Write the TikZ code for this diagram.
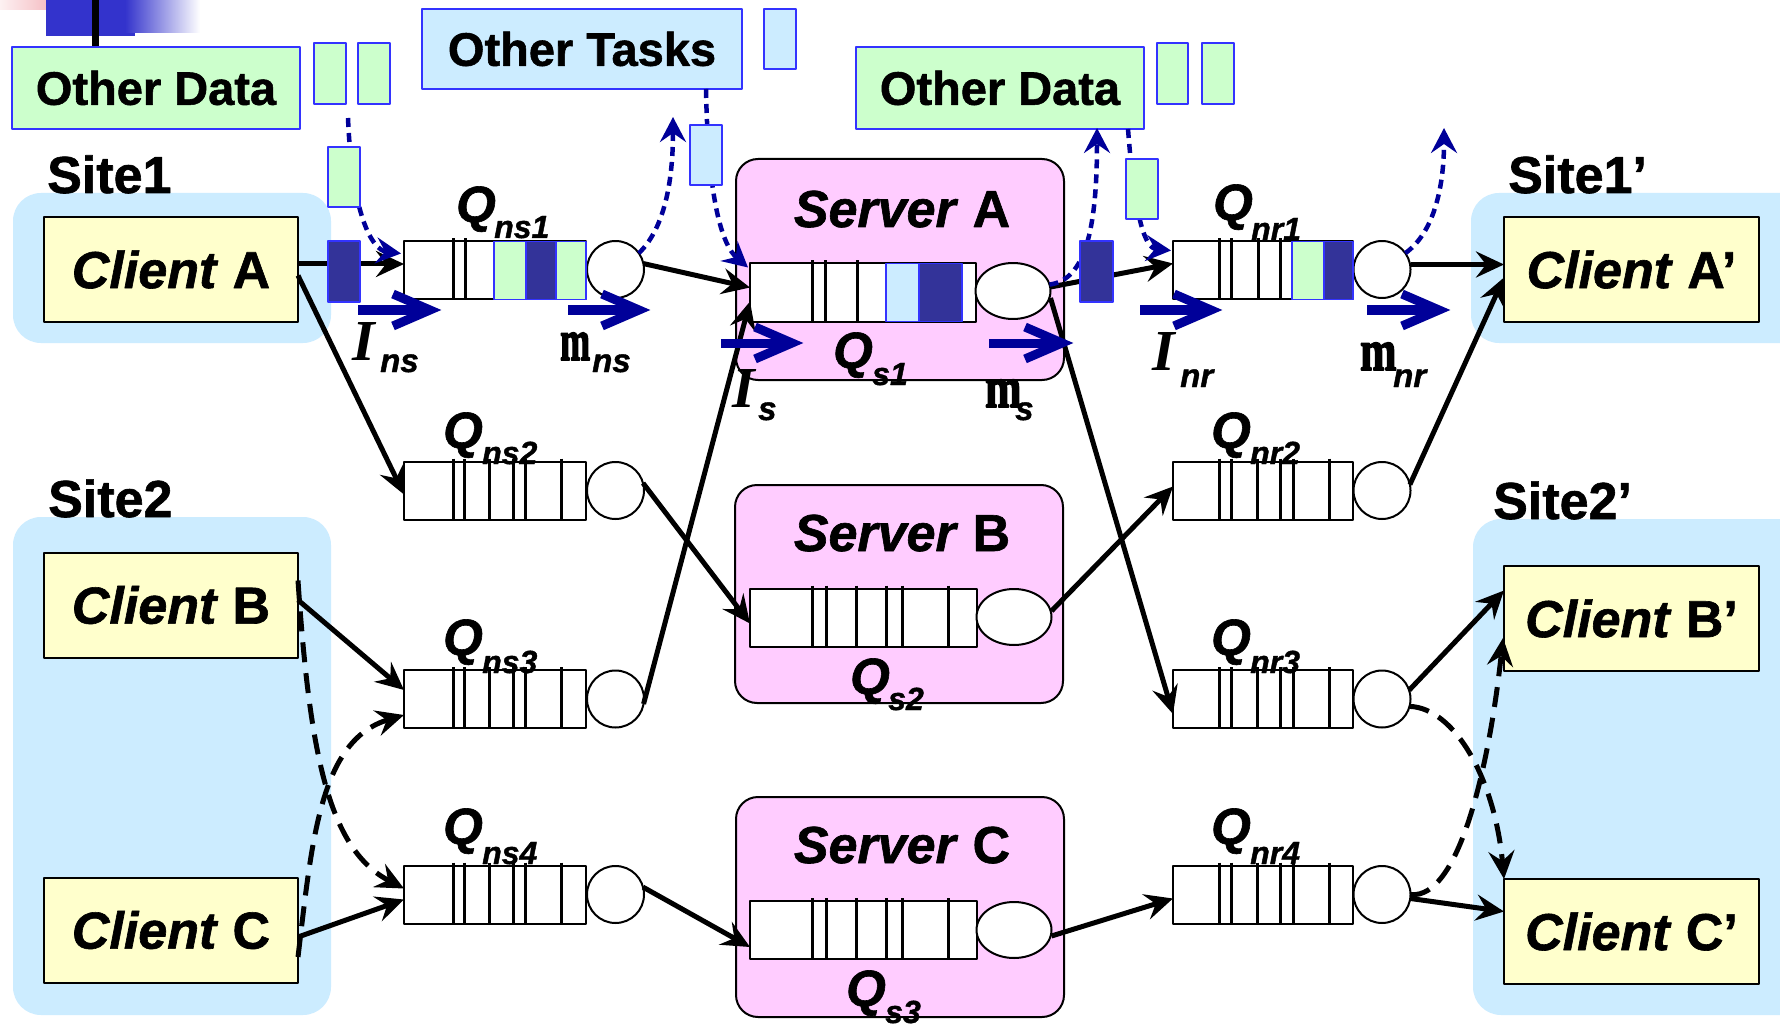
\documentclass[tikz,border=0pt]{standalone}
\usepackage{fontspec}
\setmainfont{Liberation Sans}[BoldFeatures={FakeBold=1.2},BoldItalicFeatures={FakeBold=1.2}]
\newfontfamily\serf{Liberation Serif}
\newfontfamily\serfm{Liberation Serif Bold}[FakeBold=3]
\usetikzlibrary{arrows.meta,calc,shapes.geometric}
\definecolor{sitebg}{HTML}{CCECFF}
\definecolor{cli}{HTML}{FFFFCC}
\definecolor{srv}{HTML}{FFCCFF}
\definecolor{grn}{HTML}{CCFFCC}
\definecolor{dkb}{HTML}{333399}
\definecolor{bbord}{HTML}{3333FF}
\definecolor{navy}{HTML}{000099}
\definecolor{logob}{HTML}{3333CC}
\definecolor{pinkl}{HTML}{F0A0A8}
\newcommand\fz[1]{\fontsize{#1}{#1}\selectfont}
\tikzset{
 client/.style={draw=black,line width=2pt,fill=cli,inner sep=0pt,outer sep=0pt,minimum width=254pt,minimum height=105pt,font=\fz{52}\bfseries},
 server/.style={draw=black,line width=2pt,fill=srv,rounded corners=22pt,inner sep=0pt,outer sep=0pt,minimum width=328pt},
 queue/.style={draw=black,line width=2pt,fill=white,inner sep=0pt,outer sep=0pt,minimum height=58pt},
 srvc/.style={ellipse,draw=black,line width=2pt,fill=white,inner sep=0pt,outer sep=0pt,minimum width=75pt,minimum height=56pt},
 qc/.style={circle,draw=black,line width=2pt,fill=white,inner sep=0pt,outer sep=0pt,minimum size=57pt},
 infobox/.style={draw=bbord,line width=2pt,inner sep=0pt,outer sep=0pt,minimum height=82pt,font=\fz{47}\bfseries},
 cellbox/.style={draw=bbord,line width=1.6pt},
 qline/.style={line width=3pt},
 arr/.style={line width=5pt,-{Stealth[length=28pt,width=26pt,inset=10pt]}},
 dsh/.style={arr,line width=5pt,dash pattern=on 20pt off 11pt},
 dotarr/.style={draw=navy,line width=4.5pt,dash pattern=on 9pt off 6pt,-{Stealth[length=25pt,width=26pt,inset=9pt]}},
 chev/.style={navy,line width=9pt},
 sitelbl/.style={anchor=base west,inner sep=0pt,font=\fz{52}\bfseries},
 srvlbl/.style={anchor=base,inner sep=0pt,font=\fz{52}\bfseries},
 qlbl/.style={anchor=base west,inner sep=0pt,font=\fz{51}\bfseries\itshape},
 qsub/.style={anchor=base west,inner sep=0pt,font=\fz{32}\bfseries\itshape},
 lamlbl/.style={anchor=base west,inner sep=0pt,font=\serf\fz{58}\bfseries\itshape},
 mulbl/.style={anchor=base west,inner sep=0pt,font=\serfm\fz{58}},
 rsub/.style={anchor=base west,inner sep=0pt,font=\fz{33}\bfseries\itshape},
}
\begin{document}
\begin{tikzpicture}[x=1pt,y=-1pt,line join=round]
\useasboundingbox (0,0) rectangle (1780,1024);
\clip (0,0) rectangle (1780,1024);
\fill[white] (0,0) rectangle (1780,1024);
% logo
\shade[left color=pinkl!15,right color=pinkl] (0,0) rectangle (78,10);
\fill[logob] (46,0) rectangle (135,36);
\shade[left color=logob,right color=white] (125,0) rectangle (200,33);
\draw[line width=7pt] (95,0) -- (95,46);
% site backgrounds
\fill[sitebg,rounded corners=28pt] (13,193) rectangle (331,343);
\fill[sitebg,rounded corners=28pt] (13,517) rectangle (331,1015);
\fill[sitebg,rounded corners=28pt] (1471,193) rectangle (1830,343);
\fill[sitebg,rounded corners=28pt] (1473,519) rectangle (1830,1015);
% site labels
\node[sitelbl] (s1) at (47,193) {Site1};
\node[sitelbl] (s2) at (48,517) {Site2};
\node[sitelbl] (s1b) at (1508,193) {Site1’};
\node[sitelbl] (s2b) at (1493,519) {Site2’};
% info boxes
\node[infobox,fill=grn,minimum width=288pt] (od1) at (156,88) {Other Data};
\node[infobox,fill=sitebg,minimum width=320pt,minimum height=80pt] (ot) at (582,49) {Other Tasks};
\node[infobox,fill=grn,minimum width=288pt] (od2) at (1000,88) {Other Data};
\draw[cellbox,fill=grn] (314,43) rectangle (346,104);
\draw[cellbox,fill=grn] (358,43) rectangle (390,104);
\draw[cellbox,fill=sitebg] (764,9) rectangle (796,69);
\draw[cellbox,fill=grn] (1157,43) rectangle (1188,104);
\draw[cellbox,fill=grn] (1202,43) rectangle (1234,104);
% clients
\node[client] (ca) at (171,269.5) {\textit{Client} A};
\node[client] (cb) at (171,605) {\textit{Client} B};
\node[client] (cc) at (171,930) {\textit{Client} C};
\node[client,minimum width=255pt] (ca2) at (1631.5,269.5) {\textit{Client} A’};
\node[client,minimum width=255pt] (cb2) at (1631.5,618.5) {\textit{Client} B’};
\node[client,minimum width=255pt] (cc2) at (1631.5,931.5) {\textit{Client} C’};
% servers
\node[server,minimum height=221pt] (sa) at (900,269.5) {};
\node[server,minimum height=218pt] (sb) at (899,594) {};
\node[server,minimum height=220pt] (sc) at (900,907) {};
\node[srvlbl] (sat) at (902,227) {\textit{Server} A};
\node[srvlbl] (sbt) at (902,551) {\textit{Server} B};
\node[srvlbl] (sct) at (902,863) {\textit{Server} C};
\node[queue,minimum width=226pt] (saq) at (863,292.5) {};
\node[queue,minimum width=227pt] (sbq) at (863.5,617.5) {};
\node[queue,minimum width=227pt] (scq) at (863.5,930) {};
\node[srvc] (sac) at (1013,291) {};
\node[srvc] (sbc) at (1014,617) {};
\node[srvc] (scc) at (1014,930) {};
% ns / nr queues
\node[queue,minimum width=182pt] (q1) at (495,270.5) {};
\node[queue,minimum width=182pt] (q2) at (495,490.5) {};
\node[queue,minimum width=182pt] (q3) at (495,699) {};
\node[queue,minimum width=182pt] (q4) at (495,894.5) {};
\node[qc] (c1) at (615.5,269.5) {};
\node[qc] (c2) at (615.5,490.5) {};
\node[qc] (c3) at (615.5,699) {};
\node[qc] (c4) at (615.5,894.5) {};
\node[queue,minimum width=180pt] (r1) at (1263,270.5) {};
\node[queue,minimum width=180pt] (r2) at (1263,490.5) {};
\node[queue,minimum width=180pt] (r3) at (1263,699) {};
\node[queue,minimum width=180pt] (r4) at (1263,894.5) {};
\node[qc] (rc1) at (1382,269.5) {};
\node[qc] (rc2) at (1382,490.5) {};
\node[qc] (rc3) at (1382,699) {};
\node[qc] (rc4) at (1382,894.5) {};
% queue slot lines
\foreach \yy in {461.5,670,865.5} {
  \foreach \xx in {453,464,489,513,525,561} \draw[qline] (\xx,\yy-3) -- (\xx,\yy+58);
  \foreach \xx in {1219,1231,1257,1280,1293,1329} \draw[qline] (\xx,\yy-3) -- (\xx,\yy+58);
}
\foreach \xx in {453,465} \draw[qline] (\xx,238.5) -- (\xx,299.5);
\foreach \xx in {1219,1231,1258,1280} \draw[qline] (\xx,238.5) -- (\xx,299.5);
\foreach \xx in {812,825,857} \draw[qline] (\xx,260.5) -- (\xx,321.5);
\foreach \yy in {588.5,901} \foreach \xx in {812,826,856,886,902,948} \draw[qline] (\xx,\yy-3) -- (\xx,\yy+58);
% cells in queues
\draw[cellbox,fill=grn] (494,241.5) rectangle (526,299.5);
\draw[cellbox,fill=dkb] (526,241.5) rectangle (556,299.5);
\draw[cellbox,fill=grn] (556,241.5) rectangle (586,299.5);
\draw[cellbox,fill=sitebg] (886,263.5) rectangle (919,321.5);
\draw[cellbox,fill=dkb] (919,263.5) rectangle (962,321.5);
\draw[cellbox,fill=grn] (1292,241.5) rectangle (1324,299.5);
\draw[cellbox,fill=dkb] (1324,241.5) rectangle (1353,299.5);
% solid connectors
\draw[arr] ($(ca.east)+(0,-5.5)$) -- ($(q1.west)+(0,-6.5)$);
\draw[arr] ($(ca.east)+(0,6)$) -- ($(q2.west)+(0,4)$);
\draw[arr] (c1.12) -- ($(saq.west)+(0,-5)$);
\draw[arr] (c2.15) -- ($(sbq.west)+(0,6)$);
\draw[arr] (c3.-10) -- ($(saq.south west)+(0,-20)$);
\draw[arr] (c4.15) -- ($(scq.west)+(0,17)$);
\draw[arr] ($(cb.east)+(0,-5)$) -- ($(q3.west)+(0,-9)$);
\draw[arr] ($(cc.east)+(0,7)$) -- ($(q4.west)+(0,5)$);
\draw[arr] ($(sac.east)+(0,-4)$) -- ($(r1.west)+(0,-7)$);
\draw[arr] ($(sac.east)+(0,7)$) -- ($(r3.west)+(0,15)$);
\draw[arr] ($(sbc.east)+(0,-6)$) -- ($(r2.west)+(0,-4)$);
\draw[arr] ($(scc.east)+(0,6)$) -- ($(r4.west)+(0,4)$);
\draw[arr] ($(rc1.east)+(0,-5)$) -- ($(ca2.west)+(0,-5)$);
\draw[arr] (rc2.12) -- ($(ca2.west)+(0,8)$);
\draw[arr] (rc3.18) -- ($(cb2.west)+(0,-28)$);
\draw[arr] ($(rc4.east)+(0,4)$) -- ($(cc2.west)+(0,-20)$);
% dashed connectors
\draw[dsh] ($(cb.north east)+(0,28)$) .. controls (310,760) and (330,850) .. ($(q4.west)+(0,-6)$);
\draw[dsh] ($(cc.east)+(0,27)$) .. controls (312,840) and (320,740) .. ($(q3.west)+(0,16)$);
\draw[dsh] (rc3.-15) .. controls (1455,708) and (1495,780) .. (cc2.north west);
\draw[dsh] (rc4.east) .. controls (1460,900) and (1490,760) .. ($(cb2.south west)+(-1,-33)$);
% dotted connectors
\coordinate (d1s) at (348,118);
\coordinate (d2e) at (673,117);
\coordinate (d4e) at (1097,128);
\coordinate (d6e) at (1444,128);
\draw[dotarr] (d1s) .. controls (352,215) and (372,250) .. ($(q1.north west)+(-3,12)$);
\draw[dotarr] (c1.35) .. controls (668,225) and (673,170) .. (d2e);
\draw[dotarr] ($(ot.south east)+(-36,0)$) .. controls (708,200) and (722,245) .. ($(saq.north west)+(-2,4)$);
\draw[dotarr] (sac.10) .. controls (1085,280) and (1097,230) .. (d4e);
\draw[dotarr] ($(od2.south east)+(-16,0)$) .. controls (1135,220) and (1145,248) .. ($(r1.north west)+(-2,9)$);
\draw[dotarr] (rc1.35) .. controls (1440,228) and (1444,170) .. (d6e);
% moving items
\draw[cellbox,fill=grn] (328,147) rectangle (360,207);
\draw[cellbox,fill=sitebg] (690,125) rectangle (722,185);
\draw[cellbox,fill=grn] (1126,159) rectangle (1158,219);
\draw[cellbox,fill=dkb] (328,241) rectangle (360,302);
\draw[cellbox,fill=dkb] (1080,241) rectangle (1113,302);
% rate arrows
\foreach \a/\b/\c in {358/441/310,568/650/310,721/803/343,989/1073/343,1140/1222/310,1367/1450/310} {
  \draw[chev] (\a,\c) -- (\b-14,\c);
  \draw[chev,line join=miter] (\b-48,\c-16) -- (\b-11,\c) -- (\b-48,\c+16);
}
% queue labels
\node[qlbl] (lq1) at (456,222) {Q};  \node[qsub] (lq1s) at (494,238) {ns1};
\node[qlbl] (lq2) at (443,448) {Q};  \node[qsub] (lq2s) at (482,464) {ns2};
\node[qlbl] (lq3) at (443,655) {Q};  \node[qsub] (lq3s) at (482,673) {ns3};
\node[qlbl] (lq4) at (443,844) {Q};  \node[qsub] (lq4s) at (482,864) {ns4};
\node[qlbl] (lr1) at (1213,220) {Q}; \node[qsub] (lr1s) at (1251,240) {nr1};
\node[qlbl] (lr2) at (1211,448) {Q}; \node[qsub] (lr2s) at (1250,464) {nr2};
\node[qlbl] (lr3) at (1211,655) {Q}; \node[qsub] (lr3s) at (1250,673) {nr3};
\node[qlbl] (lr4) at (1211,844) {Q}; \node[qsub] (lr4s) at (1250,864) {nr4};
\node[qlbl] (ls1) at (833,368) {Q};  \node[qsub] (ls1s) at (872,385) {s1};
\node[qlbl] (ls2) at (850,694) {Q};  \node[qsub] (ls2s) at (888,710) {s2};
\node[qlbl] (ls3) at (846,1006) {Q}; \node[qsub] (ls3s) at (885,1023) {s3};
% rate labels
\node[lamlbl] (lns) at (352,360) {I};  \node[rsub] (lnss) at (380,372) {ns};
\node[mulbl] (mns) at (560,360) {\scalebox{0.62}[1]{m}}; \node[rsub] (mnss) at (592,372) {ns};
\node[lamlbl] (ls) at (732,407) {I};  \node[rsub] (lss) at (758,420) {s};
\node[mulbl] (ms) at (985,407) {\scalebox{0.75}[1]{m}}; \node[rsub] (mss) at (1015,420) {s};
\node[lamlbl] (lnr) at (1152,370) {I};  \node[rsub] (lnrs) at (1180,387) {nr};
\node[mulbl] (mnr) at (1360,370) {\scalebox{0.75}[1]{m}}; \node[rsub] (mnrs) at (1393,387) {nr};
\end{tikzpicture}
\end{document}
